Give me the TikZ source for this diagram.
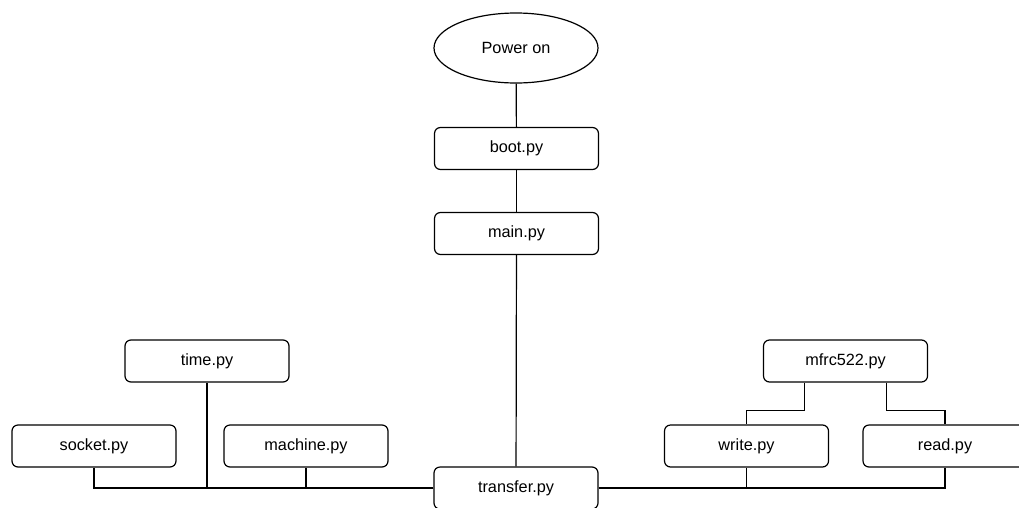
\documentclass[tikz,border=0pt]{standalone}
\usepackage{fontspec}
\setmainfont{Liberation Sans}
\usetikzlibrary{shapes.geometric,calc}
\begin{document}
\begin{tikzpicture}[x=0.75pt,y=-0.75pt,line width=0.9pt,
  label font/.style={font=\fontsize{12.2pt}{14pt}\selectfont},
  file/.style={rectangle,draw,rounded corners=4.5pt,minimum width=123pt,minimum height=31.5pt,inner sep=0pt,label font}]
\useasboundingbox (0,0) rectangle (1019,507);

\node (p) at (516,48) [ellipse,draw,minimum width=123pt,minimum height=52.5pt,inner sep=0pt,label font] {Power on};
\node (b) at (516.5,148.5) [file] {boot.py};
\node (m) at (516.5,233.5) [file] {main.py};
\node (tr) at (516,488) [file] {transfer.py};

\node (ti) at (207,361) [file] {time.py};
\node (so) at (94,446) [file] {socket.py};
\node (ma) at (306,446) [file] {machine.py};

\node (mf) at (845.5,361) [file] {mfrc522.py};
\node (wr) at (746.5,446) [file] {write.py};
\node (rd) at (945,446) [file] {read.py};

\draw (p) -- (b);
\draw (b) -- (m);
\draw (m) -- (tr);
\draw (tr.west) -| (so);
\draw (tr.west) -| (ti);
\draw (tr.west) -| (ma);
\draw (tr.east) -| (wr);
\draw (tr.east) -| (rd);
\draw ($(mf.south)!0.5!(mf.south west)$) -- ++(0,28) -| (wr);
\draw ($(mf.south)!0.5!(mf.south east)$) -- ++(0,28) -| (rd);

\end{tikzpicture}
\end{document}
